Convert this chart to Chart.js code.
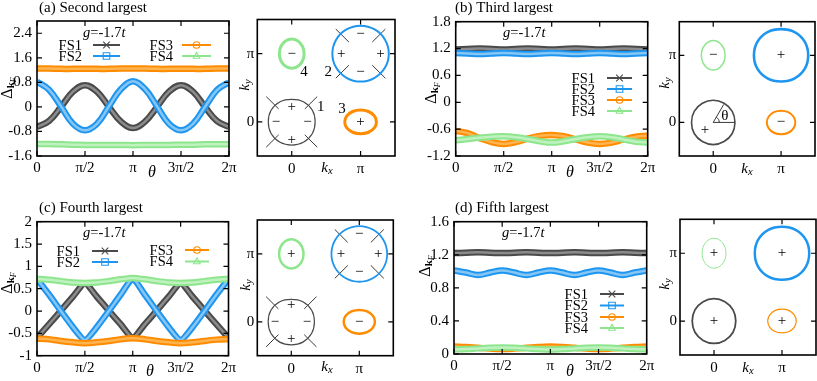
<!DOCTYPE html>
<html lang="en">
<head>
<meta charset="UTF-8">
<title>Gap functions on the Fermi surfaces</title>
<script src="https://cdn.jsdelivr.net/npm/chart.js@4"></script>
<style>
  body { margin: 0; background: #fff; }
  #fig { position: relative; width: 817px; height: 381px; overflow: hidden; }
  #fig canvas { position: absolute; }
</style>
</head>
<body>
<div id="fig">
  <canvas id="lineA"></canvas>
  <canvas id="fsA"></canvas>
  <canvas id="lineB"></canvas>
  <canvas id="fsB"></canvas>
  <canvas id="lineC"></canvas>
  <canvas id="fsC"></canvas>
  <canvas id="lineD"></canvas>
  <canvas id="fsD"></canvas>
</div>
<script>
// angle around each pocket, in units of pi
const theta = [0, 0.125, 0.25, 0.375, 0.5, 0.625, 0.75, 0.875, 1, 1.125, 1.25, 1.375, 1.5, 1.625, 1.75, 1.875, 2];
const thetaTicks = [0, 0.5, 1, 1.5, 2];
const thetaLabels = ['0', 'π/2', 'π', '3π/2', '2π'];
const seriesNames = ['FS1', 'FS2', 'FS3', 'FS4'];

// (a) second largest
const gapA_FS1 = [-0.65, -0.46, 0.0, 0.5, 0.71, 0.5, 0.0, -0.48, -0.69, -0.48, 0.0, 0.5, 0.71, 0.5, 0.0, -0.46, -0.65];
const gapA_FS2 = [0.82, 0.56, 0.02, -0.55, -0.76, -0.55, 0.02, 0.58, 0.84, 0.58, 0.02, -0.55, -0.76, -0.55, 0.0, 0.55, 0.8];
const gapA_FS3 = [1.25, 1.25, 1.24, 1.24, 1.24, 1.24, 1.24, 1.25, 1.25, 1.25, 1.24, 1.24, 1.24, 1.24, 1.24, 1.25, 1.25];
const gapA_FS4 = [-1.21, -1.21, -1.22, -1.23, -1.24, -1.24, -1.24, -1.24, -1.25, -1.24, -1.24, -1.24, -1.23, -1.23, -1.22, -1.22, -1.22];
const yTicksA = [-1.6, -0.8, 0, 0.8, 1.6, 2.4];
const yLabelsA = ['-1.6', '-0.8', '0', '0.8', '1.6', '2.4'];

// (b) third largest
const gapB_FS1 = [1.18, 1.19, 1.2, 1.19, 1.18, 1.19, 1.2, 1.19, 1.18, 1.19, 1.2, 1.19, 1.18, 1.19, 1.2, 1.19, 1.18];
const gapB_FS2 = [1.1, 1.09, 1.08, 1.09, 1.1, 1.09, 1.08, 1.09, 1.1, 1.09, 1.08, 1.09, 1.1, 1.09, 1.08, 1.09, 1.1];
const gapB_FS3 = [-0.64, -0.69, -0.8, -0.89, -0.93, -0.89, -0.81, -0.75, -0.73, -0.76, -0.83, -0.9, -0.93, -0.9, -0.83, -0.77, -0.75];
const gapB_FS4 = [-0.85, -0.82, -0.79, -0.77, -0.76, -0.78, -0.82, -0.87, -0.9, -0.87, -0.82, -0.78, -0.76, -0.78, -0.83, -0.88, -0.9];
const yTicksB = [-1.2, -0.6, 0, 0.6, 1.2, 1.8];
const yLabelsB = ['-1.2', '-0.6', '0', '0.6', '1.2', '1.8'];

// (c) fourth largest
const gapC_FS1 = [-0.6, -0.3, 0.01, 0.32, 0.62, 0.32, 0.01, -0.3, -0.6, -0.3, 0.01, 0.32, 0.62, 0.32, 0.01, -0.3, -0.6];
const gapC_FS2 = [0.72, 0.37, 0.0, -0.36, -0.65, -0.36, 0.0, 0.37, 0.72, 0.37, 0.0, -0.36, -0.65, -0.36, 0.0, 0.37, 0.72];
const gapC_FS3 = [-0.62, -0.63, -0.67, -0.7, -0.72, -0.7, -0.67, -0.63, -0.61, -0.63, -0.67, -0.7, -0.72, -0.7, -0.67, -0.64, -0.63];
const gapC_FS4 = [0.72, 0.7, 0.67, 0.64, 0.63, 0.64, 0.67, 0.71, 0.74, 0.71, 0.67, 0.64, 0.63, 0.64, 0.67, 0.7, 0.72];
const yTicksC = [-1, -0.5, 0, 0.5, 1, 1.5, 2];
const yLabelsC = ['-1', '-0.5', '0', '0.5', '1', '1.5', '2'];

// (d) fifth largest
const gapD_FS1 = [1.22, 1.225, 1.23, 1.225, 1.22, 1.225, 1.23, 1.225, 1.22, 1.225, 1.23, 1.225, 1.22, 1.225, 1.23, 1.225, 1.22];
const gapD_FS2 = [1.01, 0.985, 0.955, 0.985, 1.01, 0.985, 0.955, 0.985, 1.01, 0.985, 0.955, 0.985, 1.01, 0.985, 0.955, 0.985, 1.01];
const gapD_FS3 = [0.09, 0.085, 0.075, 0.065, 0.06, 0.065, 0.075, 0.085, 0.09, 0.085, 0.075, 0.065, 0.06, 0.065, 0.075, 0.085, 0.09];
const gapD_FS4 = [0.055, 0.06, 0.068, 0.075, 0.078, 0.075, 0.068, 0.06, 0.055, 0.06, 0.068, 0.075, 0.078, 0.075, 0.068, 0.06, 0.055];
const yTicksD = [0, 0.4, 0.8, 1.2, 1.6];
const yLabelsD = ['0', '0.4', '0.8', '1.2', '1.6'];

// Fermi surface sketches, k in units of pi
const kTicks = [0, 1];
const kLabels = ['0', 'π'];
const pocketCenters = [[0, 0], [1, 1], [1, 0], [0, 1]];
// contour offsets from the pocket centre, every 30 degrees
const pocketA_FS1 = [[0.34, 0], [0.3, 0.17], [0.17, 0.295], [0, 0.33], [-0.17, 0.295], [-0.3, 0.17], [-0.34, 0], [-0.3, -0.17], [-0.17, -0.3], [0, -0.34], [0.17, -0.3], [0.3, -0.17]];
const pocketA_FS2 = [[0.41, 0], [0.355, 0.205], [0.205, 0.355], [0, 0.41], [-0.205, 0.355], [-0.355, 0.205], [-0.41, 0], [-0.355, -0.205], [-0.205, -0.355], [0, -0.41], [0.205, -0.355], [0.355, -0.205]];
const pocketA_FS3 = [[0.23, 0], [0.2, 0.088], [0.115, 0.152], [0, 0.175], [-0.115, 0.152], [-0.2, 0.088], [-0.23, 0], [-0.2, -0.088], [-0.115, -0.152], [0, -0.175], [0.115, -0.152], [0.2, -0.088]];
const pocketA_FS4 = [[0.18, 0], [0.156, 0.108], [0.09, 0.186], [0, 0.215], [-0.09, 0.186], [-0.156, 0.108], [-0.18, 0], [-0.156, -0.108], [-0.09, -0.186], [0, -0.215], [0.09, -0.186], [0.156, -0.108]];
const pocketB_FS1 = [[0.32, 0], [0.28, 0.165], [0.16, 0.285], [0, 0.33], [-0.16, 0.285], [-0.28, 0.165], [-0.32, 0], [-0.28, -0.165], [-0.16, -0.285], [0, -0.33], [0.16, -0.285], [0.28, -0.165]];
const pocketB_FS2 = [[0.4, 0], [0.35, 0.2], [0.2, 0.345], [0, 0.39], [-0.2, 0.345], [-0.35, 0.2], [-0.4, 0], [-0.35, -0.2], [-0.2, -0.345], [0, -0.39], [0.2, -0.345], [0.35, -0.2]];
const pocketB_FS3 = [[0.21, 0], [0.182, 0.088], [0.105, 0.154], [0, 0.175], [-0.105, 0.154], [-0.182, 0.088], [-0.21, 0], [-0.182, -0.088], [-0.105, -0.154], [0, -0.175], [0.105, -0.154], [0.182, -0.088]];
const pocketB_FS4 = [[0.175, 0], [0.152, 0.11], [0.088, 0.19], [0, 0.22], [-0.088, 0.19], [-0.152, 0.11], [-0.175, 0], [-0.152, -0.11], [-0.088, -0.19], [0, -0.22], [0.088, -0.19], [0.152, -0.11]];
// node lines along the diagonals: [inner, outer] offset per component
const nodeSpanFS1 = [0.19, 0.37];
const nodeSpanFS2 = [0.17, 0.36];
// angle marker in (b)
const angleRay = [[0.32, 0], [0, 0], [0.155, 0.268]];
const angleArc = [[0.09, 0], [0.078, 0.045], [0.045, 0.078]];

const edgeColors = ['#4a4a4a', '#1e96f0', '#ff8c00', '#8de68d'];
const coreColors = ['#8c8c8c', '#86c6f5', '#ffb450', '#bff2bf'];
const markerStyles = ['crossRot', 'rect', 'circle', 'triangle'];
const SERIF = "'Liberation Serif', 'DejaVu Serif', serif";

function R(t, o) { return Object.assign({ t: t }, o || {}); }
function runFont(r) { return (r.i ? 'italic ' : '') + (r.b ? 'bold ' : '') + (r.s || 14) + 'px ' + SERIF; }

function drawRuns(ctx, runs, x, y, align, rot) {
  ctx.save();
  ctx.translate(x, y);
  if (rot) ctx.rotate(rot);
  let w = 0;
  runs.forEach(r => { ctx.font = runFont(r); w += ctx.measureText(r.t).width; });
  let cx = align === 'right' ? -w : (align === 'center' ? -w / 2 : 0);
  ctx.textBaseline = 'middle';
  ctx.textAlign = 'left';
  runs.forEach(r => {
    ctx.font = runFont(r);
    ctx.fillStyle = '#000';
    ctx.fillText(r.t, cx, r.dy || 0);
    cx += ctx.measureText(r.t).width;
  });
  ctx.restore();
}

function drawMarker(ctx, style, x, y, r) {
  ctx.beginPath();
  if (style === 'crossRot') {
    ctx.moveTo(x - r, y - r); ctx.lineTo(x + r, y + r);
    ctx.moveTo(x - r, y + r); ctx.lineTo(x + r, y - r);
  } else if (style === 'rect') {
    ctx.rect(x - r, y - r, 2 * r, 2 * r);
  } else if (style === 'circle') {
    ctx.arc(x, y, r, 0, Math.PI * 2);
  } else {
    ctx.moveTo(x, y - r * 1.1); ctx.lineTo(x + r, y + r * 0.7); ctx.lineTo(x - r, y + r * 0.7); ctx.closePath();
  }
  ctx.stroke();
}

// frame with inward ticks on all sides, custom legend and labels
const deco = {
  id: 'deco',
  afterDatasetsDraw(chart, args, o) {
    const ctx = chart.ctx, a = chart.chartArea, sx = chart.scales.x, sy = chart.scales.y;
    ctx.save();
    ctx.strokeStyle = '#000';
    ctx.lineWidth = 1.6;
    ctx.strokeRect(a.left, a.top, a.right - a.left, a.bottom - a.top);
    ctx.lineWidth = 1.2;
    ctx.beginPath();
    sx.ticks.forEach(t => {
      const p = sx.getPixelForValue(t.value);
      ctx.moveTo(p, a.bottom); ctx.lineTo(p, a.bottom - 5);
      ctx.moveTo(p, a.top); ctx.lineTo(p, a.top + 5);
    });
    sy.ticks.forEach(t => {
      const p = sy.getPixelForValue(t.value);
      ctx.moveTo(a.left, p); ctx.lineTo(a.left + 5, p);
      ctx.moveTo(a.right, p); ctx.lineTo(a.right - 5, p);
    });
    ctx.stroke();

    (o.legend || []).forEach(it => {
      const y = it.ty - o.oy;
      drawRuns(ctx, [R(seriesNames[it.i], { s: 14.5 })], it.tx - o.ox, y + 1, 'right');
      ctx.strokeStyle = edgeColors[it.i];
      ctx.lineWidth = 2;
      ctx.beginPath();
      ctx.moveTo(it.x1 - o.ox, y); ctx.lineTo(it.x2 - o.ox, y);
      ctx.stroke();
      ctx.lineWidth = 1.1;
      drawMarker(ctx, markerStyles[it.i], (it.x1 + it.x2) / 2 - o.ox, y, 3.3);
    });

    (o.texts || []).forEach(t => drawRuns(ctx, t.runs, t.x - o.ox, t.y - o.oy, t.align || 'left', t.rot || 0));
    (o.marks || []).forEach(t => drawRuns(ctx, t.runs, sx.getPixelForValue(t.x), sy.getPixelForValue(t.y), 'center'));
    ctx.restore();
  }
};
Chart.register(deco);

function place(cv, box) {
  cv.width = box.w; cv.height = box.h;
  cv.style.left = box.x + 'px'; cv.style.top = box.y + 'px';
  cv.style.width = box.w + 'px'; cv.style.height = box.h + 'px';
}

function axis(min, max, ticks, labels, fit, pad) {
  return {
    type: 'linear', min: min, max: max,
    afterBuildTicks: s => { s.ticks = ticks.map(v => ({ value: v })); },
    afterFit: fit,
    grid: { display: false, drawTicks: false },
    border: { display: false },
    ticks: {
      autoSkip: false, maxRotation: 0, padding: pad, color: '#000',
      font: { family: SERIF, size: 15 },
      callback: v => labels[ticks.indexOf(v)]
    }
  };
}

function baseOptions(box, area, xAxis, yAxis, decoOpts) {
  decoOpts.ox = box.x; decoOpts.oy = box.y;
  return {
    responsive: false, animation: false, events: [],
    layout: { padding: { left: 0, bottom: 0, top: area.t - box.y, right: box.x + box.w - area.r } },
    scales: { x: xAxis, y: yAxis },
    plugins: { legend: { display: false }, tooltip: { enabled: false }, deco: decoOpts }
  };
}

function lineChart(id, box, area, gaps, yMin, yMax, yTicks, yLabels, tension, decoOpts) {
  const cv = document.getElementById(id);
  place(cv, box);
  const datasets = [];
  gaps.forEach((vals, i) => {
    const pts = theta.map((t, j) => ({ x: t, y: vals[j] }));
    datasets.push({ data: pts, borderColor: edgeColors[i], borderWidth: 6.5, pointRadius: 0, tension: tension, order: 10 - 2 * i });
    datasets.push({ data: pts, borderColor: coreColors[i], borderWidth: 2.5, pointRadius: 0, tension: tension, order: 9 - 2 * i });
  });
  const xAxis = axis(0, 2, thetaTicks, thetaLabels, s => { s.height = box.y + box.h - area.b; }, 3);
  const yAxis = axis(yMin, yMax, yTicks, yLabels, s => { s.width = area.l - box.x; }, 5);
  new Chart(cv, { type: 'line', data: { datasets: datasets }, options: baseOptions(box, area, xAxis, yAxis, decoOpts) });
}

function closedLoop(shape, c) {
  const n = shape.length, pts = [];
  for (let k = -1; k <= n + 1; k++) {
    const s = shape[(k + n) % n];
    pts.push({ x: c[0] + s[0], y: c[1] + s[1] });
  }
  return pts;
}

function fsChart(id, box, area, pockets, widths, extras, decoOpts) {
  const cv = document.getElementById(id);
  place(cv, box);
  const datasets = [];
  pockets.forEach((shape, i) => {
    const pts = closedLoop(shape, pocketCenters[i]);
    const last = pts.length - 1;
    datasets.push({
      type: 'scatter', showLine: true, data: pts, borderColor: edgeColors[i], borderWidth: widths[i],
      pointRadius: 0, tension: 0.4,
      segment: { borderColor: c => (c.p0DataIndex === 0 || c.p1DataIndex === last) ? 'rgba(0,0,0,0)' : undefined }
    });
  });
  extras.forEach(seg => {
    datasets.push({
      type: 'scatter', showLine: true, data: seg.pts.map(p => ({ x: p[0], y: p[1] })),
      borderColor: '#222', borderWidth: seg.w || 0.9, pointRadius: 0, tension: seg.tension || 0
    });
  });
  const xAxis = axis(-0.5, 1.5, kTicks, kLabels, s => { s.height = box.y + box.h - area.b; }, 4);
  const yAxis = axis(-0.5, 1.5, kTicks, kLabels, s => { s.width = area.l - box.x; }, 3);
  new Chart(cv, { type: 'scatter', data: { datasets: datasets }, options: baseOptions(box, area, xAxis, yAxis, decoOpts) });
}

function nodeLines(span, c) {
  const segs = [];
  [[1, 1], [-1, 1], [-1, -1], [1, -1]].forEach(d => {
    segs.push({ pts: [[c[0] + d[0] * span[0], c[1] + d[1] * span[0]], [c[0] + d[0] * span[1], c[1] + d[1] * span[1]]] });
  });
  return segs;
}

const gRuns = [R('g', { i: 1, s: 14.5 }), R('=-1.7', { s: 14.5 }), R('t', { i: 1, s: 14.5 })];
const deltaRuns = [R('Δ', { s: 16 }), R('k', { b: 1, s: 11, dy: 3 }), R('F', { i: 1, s: 8, dy: 6 })];
const thetaRuns = [R('θ', { i: 1, s: 16 })];
const kxRuns = [R('k', { i: 1, s: 15 }), R('x', { i: 1, s: 10.5, dy: 3 })];
const kyRuns = [R('k', { i: 1, s: 15 }), R('y', { i: 1, s: 10.5, dy: 3 })];
const P = '+', M = '\u2212';
function sign(s, x, y) { return { runs: [R(s, { s: 15 })], x: x, y: y }; }

function panelTexts(title, tx, ty, gx, gy, thx, thy, dx, dy) {
  return [
    { runs: [R(title, { s: 15 })], x: tx, y: ty },
    { runs: gRuns, x: gx, y: gy },
    { runs: thetaRuns, x: thx, y: thy, align: 'center' },
    { runs: deltaRuns, x: dx, y: dy, align: 'center', rot: -Math.PI / 2 }
  ];
}
function fsTexts(kyx, kyy, kxx, kxy) {
  return [
    { runs: kyRuns, x: kyx, y: kyy, align: 'center', rot: -Math.PI / 2 },
    { runs: kxRuns, x: kxx, y: kxy, align: 'center' }
  ];
}

// (a)
lineChart('lineA', { x: 0, y: 0, w: 242, h: 190 }, { l: 37, t: 21, r: 229, b: 156 },
  [gapA_FS1, gapA_FS2, gapA_FS3, gapA_FS4], -1.6, 2.8, yTicksA, yLabelsA, 0.4, {
    texts: panelTexts('(a) Second largest', 39, 8, 83, 33, 152, 173, 8, 88),
    legend: [
      { i: 0, tx: 82, ty: 45, x1: 93, x2: 120 }, { i: 1, tx: 82, ty: 56, x1: 93, x2: 120 },
      { i: 2, tx: 173, ty: 45, x1: 182, x2: 211 }, { i: 3, tx: 173, ty: 56, x1: 182, x2: 211 }
    ]
  });
fsChart('fsA', { x: 230, y: 0, w: 170, h: 190 }, { l: 257.3, t: 19.5, r: 395, b: 156 },
  [pocketA_FS1, pocketA_FS2, pocketA_FS3, pocketA_FS4], [1.2, 2, 3, 3],
  nodeLines(nodeSpanFS1, pocketCenters[0]).concat(nodeLines(nodeSpanFS2, pocketCenters[1])), {
    texts: fsTexts(245, 85, 327, 168),
    marks: [
      sign(P, 0, 0.22), sign(M, -0.23, 0), sign(M, 0.23, 0), sign(P, 0, -0.27),
      sign(M, 1, 1.28), sign(P, 0.72, 1), sign(P, 1.29, 1), sign(M, 1, 0.73),
      sign(P, 1, 0), sign(M, 0, 1),
      sign('1', 0.42, 0.22), sign('2', 0.53, 0.73), sign('3', 0.73, 0.19), sign('4', 0.18, 0.73)
    ]
  });

// (b)
lineChart('lineB', { x: 400, y: 0, w: 262, h: 190 }, { l: 455.7, t: 21.7, r: 647.7, b: 156 },
  [gapB_FS1, gapB_FS2, gapB_FS3, gapB_FS4], -1.2, 1.8, yTicksB, yLabelsB, 0.4, {
    texts: panelTexts('(b) Third largest', 455, 8, 503, 33, 570, 173, 432, 93),
    legend: [
      { i: 0, tx: 595, ty: 78, x1: 607, x2: 632 }, { i: 1, tx: 595, ty: 89, x1: 607, x2: 632 },
      { i: 2, tx: 595, ty: 100, x1: 607, x2: 632 }, { i: 3, tx: 595, ty: 111, x1: 607, x2: 632 }
    ]
  });
fsChart('fsB', { x: 650, y: 0, w: 167, h: 190 }, { l: 679.3, t: 21.7, r: 815, b: 156 },
  [pocketB_FS1, pocketB_FS2, pocketB_FS3, pocketB_FS4], [1.6, 2.6, 2, 1.5],
  [{ pts: angleRay, w: 0.9 }, { pts: angleArc, w: 0.9, tension: 0.4 }], {
    texts: fsTexts(665, 83, 747, 169),
    marks: [sign(P, -0.12, -0.12), sign('θ', 0.17, 0.1), sign(P, 1, 1), sign(M, 1, 0), sign(M, 0, 1)]
  });

// (c)
lineChart('lineC', { x: 0, y: 190, w: 242, h: 191 }, { l: 37, t: 221.7, r: 228.5, b: 355.7 },
  [gapC_FS1, gapC_FS2, gapC_FS3, gapC_FS4], -1, 2, yTicksC, yLabelsC, 0.2, {
    texts: panelTexts('(c) Fourth largest', 39, 208, 83, 233, 150, 372, 8, 283),
    legend: [
      { i: 0, tx: 80, ty: 251, x1: 92, x2: 118 }, { i: 1, tx: 80, ty: 262, x1: 92, x2: 118 },
      { i: 2, tx: 173, ty: 250, x1: 185, x2: 209 }, { i: 3, tx: 173, ty: 261.5, x1: 185, x2: 209 }
    ]
  });
fsChart('fsC', { x: 230, y: 190, w: 170, h: 191 }, { l: 257.3, t: 220, r: 393.3, b: 355.7 },
  [pocketA_FS1, pocketA_FS2, pocketA_FS3, pocketA_FS4], [1.2, 1.8, 2.5, 2.5],
  nodeLines(nodeSpanFS1, pocketCenters[0]).concat(nodeLines(nodeSpanFS2, pocketCenters[1])), {
    texts: fsTexts(246, 285, 327, 367),
    marks: [
      sign(P, 0, 0.24), sign(M, -0.24, 0), sign(M, 0.23, 0), sign(P, 0, -0.25),
      sign(M, 1, 1.29), sign(P, 0.73, 1), sign(P, 1.28, 1), sign(M, 1, 0.73),
      sign(M, 1, 0), sign(P, 0, 1)
    ]
  });

// (d)
lineChart('lineD', { x: 400, y: 190, w: 262, h: 191 }, { l: 454, t: 221.7, r: 646.7, b: 354 },
  [gapD_FS1, gapD_FS2, gapD_FS3, gapD_FS4], 0, 1.6, yTicksD, yLabelsD, 0.4, {
    texts: panelTexts('(d) Fifth largest', 455, 208, 502, 233, 570, 372, 426, 266),
    legend: [
      { i: 0, tx: 588, ty: 294, x1: 600, x2: 624 }, { i: 1, tx: 588, ty: 305.5, x1: 600, x2: 624 },
      { i: 2, tx: 588, ty: 317, x1: 600, x2: 624 }, { i: 3, tx: 588, ty: 328, x1: 600, x2: 624 }
    ]
  });
fsChart('fsD', { x: 650, y: 190, w: 167, h: 191 }, { l: 680, t: 219.3, r: 816, b: 355 },
  [pocketB_FS1, pocketB_FS2, pocketB_FS3, pocketB_FS4], [1.8, 2.5, 1.2, 1.0], [], {
    texts: fsTexts(665, 284, 748, 368),
    marks: [sign(P, 0, 0), sign(P, 1, 1), sign(P, 1, 0), sign(P, 0, 1)]
  });
</script>
</body>
</html>
